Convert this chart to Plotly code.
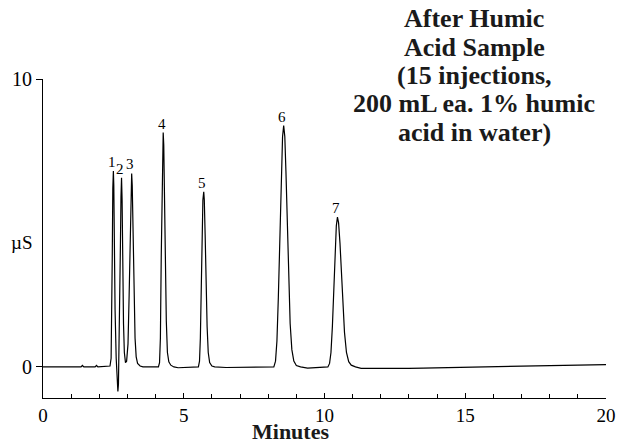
import plotly.graph_objects as go

# Chromatogram trace (minutes, µS)
time_min = [
    0.0, 0.5, 1.0, 1.35, 1.4, 1.45, 1.85, 1.9, 1.95, 2.3, 2.38,
    2.42, 2.44, 2.46, 2.48, 2.50, 2.515, 2.53, 2.56, 2.60, 2.63, 2.66, 2.68,
    2.70, 2.72, 2.75, 2.77, 2.79, 2.81, 2.83, 2.86, 2.89, 2.93,
    2.97, 3.02, 3.06, 3.10, 3.13, 3.15, 3.17, 3.20, 3.23, 3.27, 3.31, 3.36, 3.45, 3.55,
    3.8, 4.0, 4.10, 4.14, 4.17, 4.20, 4.23, 4.25, 4.27, 4.29, 4.31, 4.34, 4.38, 4.42,
    4.47, 4.54, 4.65, 4.8, 5.0, 5.3,
    5.52, 5.56, 5.59, 5.62, 5.65, 5.68, 5.71, 5.73, 5.76, 5.79, 5.83, 5.87, 5.92,
    6.0, 6.1, 6.5, 7.0, 7.5, 8.0,
    8.20, 8.26, 8.31, 8.36, 8.41, 8.46, 8.51, 8.55, 8.59, 8.63, 8.68, 8.73, 8.78,
    8.84, 8.91, 9.0, 9.15, 9.4, 9.7, 10.0,
    10.12, 10.18, 10.23, 10.28, 10.33, 10.38, 10.42, 10.46, 10.50, 10.55, 10.60,
    10.65, 10.71, 10.78, 10.86, 10.95, 11.1, 11.3,
    12.0, 12.5, 13.0, 13.5, 14.0, 14.5, 15.0, 15.5, 16.0, 16.5, 17.0, 17.5,
    18.0, 18.5, 19.0, 19.5, 20.0,
]
signal_us = [
    0.0, 0.0, 0.0, 0.0, 0.05, 0.0, 0.0, 0.05, 0.0, 0.02, 0.03,
    0.3, 1.5, 3.8, 6.2, 6.80, 6.3, 4.5, 2.0, 0.3, -0.4, -0.85, -0.6,
    0.5, 1.8, 4.2, 5.9, 6.57, 5.8, 3.8, 1.5, 0.5, 0.15,
    0.2, 0.8, 2.5, 5.0, 6.4, 6.72, 6.3, 4.5, 2.5, 1.0, 0.35, 0.12, 0.03, 0.0,
    0.0, 0.0, 0.0, 0.15, 1.0, 3.8, 6.5, 7.8, 8.14, 7.7, 6.2, 4.0, 1.6, 0.5,
    0.18, 0.06, 0.0, -0.03, -0.02, 0.0,
    0.0, 0.2, 1.0, 2.6, 4.5, 5.8, 6.08, 5.8, 4.6, 3.0, 1.4, 0.5, 0.15,
    0.03, 0.0, -0.02, -0.01, 0.0, 0.0,
    0.0, 0.2, 0.9, 2.4, 4.5, 6.6, 8.0, 8.38, 8.0, 6.8, 5.0, 3.0, 1.5,
    0.6, 0.2, 0.05, 0.0, -0.04, -0.03, -0.02,
    0.0, 0.12, 0.5, 1.4, 2.8, 4.1, 4.9, 5.20, 5.0, 4.3, 3.2,
    2.2, 1.2, 0.5, 0.18, 0.06, 0.0, -0.05,
    -0.06, -0.05, -0.05, -0.04, -0.03, -0.03, -0.02, -0.01, 0.0, 0.0, 0.02, 0.03,
    0.04, 0.05, 0.06, 0.07, 0.08,
]

peak_labels = ["1", "2", "3", "4", "5", "6", "7"]
peak_times = [2.50, 2.79, 3.15, 4.27, 5.71, 8.55, 10.46]
peak_heights = [6.80, 6.57, 6.72, 8.14, 6.08, 8.38, 5.20]

x_tick_vals = [0, 5, 10, 15, 20]
y_tick_vals = [0, 10]

title_lines = [
    "After Humic",
    "Acid Sample",
    "(15 injections,",
    "200 mL ea. 1% humic",
    "acid in water)",
]

SERIF = "Liberation Serif, Times New Roman, serif"

ML, MR = 43, 13
PLOT_W = 619 - ML - MR

fig = go.Figure()
fig.add_trace(go.Scatter(
    x=time_min, y=signal_us, mode="lines",
    line=dict(color="black", width=1.2),
    hoverinfo="skip", showlegend=False,
))

annotations = []
for lab, t, h in zip(peak_labels, peak_times, peak_heights):
    annotations.append(dict(
        x=t, y=h, xref="x", yref="y", text=lab, showarrow=False,
        yanchor="bottom", xanchor="center", xshift=-1.5, yshift=-1,
        font=dict(family=SERIF, size=15, color="black"),
    ))

# Title block (top right)
plot_top_px, plot_h_px = 79, 319
first_center_px, step_px = 19, 28.3
for i, line in enumerate(title_lines):
    py = first_center_px + i * step_px
    annotations.append(dict(
        x=(474 - ML) / PLOT_W, y=1 + (plot_top_px - py) / plot_h_px,
        xref="paper", yref="paper", text="<b>%s</b>" % line, showarrow=False,
        xanchor="center", yanchor="middle",
        font=dict(family=SERIF, size=26, color="#1a1a1a"),
    ))

# axis titles
annotations.append(dict(
    x=(290 - ML) / PLOT_W, y=(398 - 432) / 319, xref="paper", yref="paper",
    text="<b>Minutes</b>", showarrow=False, xanchor="center", yanchor="middle",
    borderpad=0,
    font=dict(family=SERIF, size=22, color="#1a1a1a"),
))
annotations.append(dict(
    x=(22 - ML) / PLOT_W, y=4.32, xref="paper", yref="y",
    text="µS", showarrow=False, xanchor="center", yanchor="middle",
    font=dict(family=SERIF, size=19, color="black"),
))

fig.update_layout(
    width=619, height=444,
    margin=dict(l=ML, r=MR, t=79, b=46),
    paper_bgcolor="white", plot_bgcolor="white",
    annotations=annotations,
    xaxis=dict(
        range=[0, 20], tickvals=x_tick_vals, ticks="inside", ticklen=5,
        tickwidth=1, tickcolor="black", automargin=False,
        minor=dict(dtick=1, ticks="inside", ticklen=4, tickcolor="black", tickwidth=1),
        showline=True, linecolor="black", linewidth=1,
        showgrid=False, zeroline=False,
        tickfont=dict(family=SERIF, size=19, color="black"),
    ),
    yaxis=dict(
        range=[-1.08, 10], tickvals=y_tick_vals, ticks="outside", ticklen=6,
        tickwidth=1, tickcolor="black", automargin=False,
        showline=True, linecolor="black", linewidth=1,
        showgrid=False, zeroline=False,
        tickfont=dict(family=SERIF, size=20, color="black"),
    ),
)

fig.write_html("out.html")
